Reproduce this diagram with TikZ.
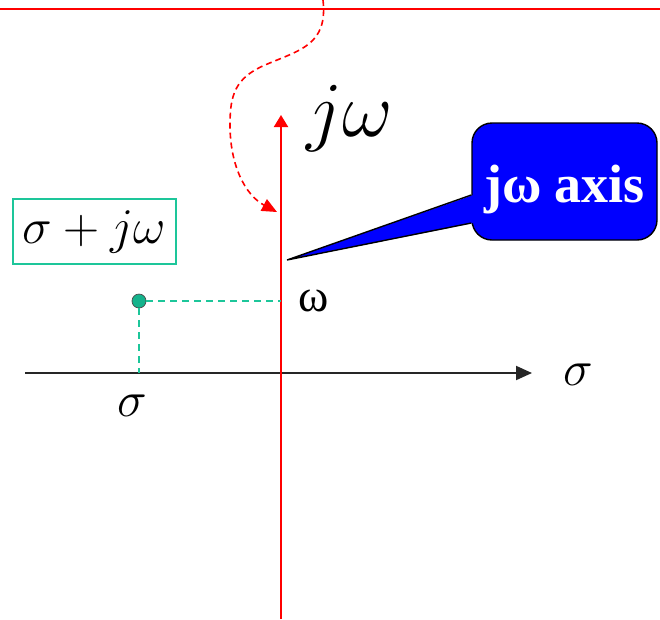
\RequirePackage{fix-cm}
\documentclass[tikz,border=0pt]{standalone}
\usepackage{fontspec}
\usepackage{tikz}
\usetikzlibrary{arrows.meta,calc}
\newfontfamily\tnr{Liberation Serif}
\definecolor{AxisRed}{HTML}{FF0000}
\definecolor{Teal}{HTML}{1DC69A}
\definecolor{DotTeal}{HTML}{14B38C}
\definecolor{CallBlue}{HTML}{0000FF}

\begin{document}
\begin{tikzpicture}[
  x=1pt,y=-1pt,
  mathlbl/.style={inner sep=0pt,font=\fontsize{50}{60}\selectfont},
  realaxis/.style={-{Triangle[length=16pt,width=14pt]},line width=2pt,black!85},
  imagaxis/.style={-{Triangle[length=12pt,width=14pt]},line width=2pt,AxisRed},
  guide/.style={Teal,line width=1.5pt,dash pattern=on 7pt off 5pt},
  curly/.style={-{Triangle[length=15pt,width=13pt]},AxisRed,line width=1.6pt,dash pattern=on 6pt off 4pt},
  callout/.style={fill=CallBlue,draw=black,line width=1.4pt,rounded corners=20pt,minimum width=185pt,minimum height=117pt,text=white,font=\tnr\bfseries\fontsize{54}{60}\selectfont,text height=53pt,text depth=12pt}
]
  \useasboundingbox (0,0) rectangle (660,619);
  \draw[AxisRed,line width=1.8pt] (0,9) -- (660,9);
  \coordinate (orig) at (281,373);
  \coordinate (xleft) at (25,373);
  \coordinate (xright) at (532,373);
  \coordinate (ybot) at (281,619);
  \coordinate (ytop) at (281,115);
  \draw[realaxis] (xleft) -- (xright);
  \draw[imagaxis] (ybot) -- (ytop);
  \node[mathlbl,font=\fontsize{78}{90}\selectfont] (jwlbl) at (350,119) {$j\omega$};
  \node[mathlbl] (sigright) at (578,375) {$\sigma$};
  \node[mathlbl] (sigbot) at (132,406) {$\sigma$};
  \node[inner sep=0pt,font=\tnr\fontsize{46}{50}\selectfont] (omlbl) at (314,301) {ω};
  \node[mathlbl,draw=Teal,line width=2pt,minimum width=163pt,minimum height=65pt] (ptlbl) at (94.5,231.5) {$\sigma+j\omega$};
  \node[circle,fill=DotTeal,draw=black!70,line width=0.7pt,minimum size=14pt,inner sep=0pt] (pt) at (139,301) {};
  \draw[guide] (pt) -- (pt |- orig);
  \draw[guide] (pt) -- (pt -| orig);
  \coordinate (cstart) at (323,0);
  \coordinate (cend) at (277,212);
  \draw[curly] (cstart) .. controls (328,45) and (300,50) .. (265,65)
    .. controls (235,78) and (230,95) .. (230,125)
    .. controls (230,165) and (245,195) .. (cend);
  \node[callout] (axislbl) at (564.5,181.5) {jω axis};
  \coordinate (ptrtop) at ($(axislbl.west)+(0,13.5)$);
  \coordinate (ptrbot) at ($(axislbl.west)+(0,41.5)$);
  \coordinate (ptrtip) at (287,260);
  \fill[CallBlue] ($(ptrtop)+(2,0)$) -- (ptrtip) -- ($(ptrbot)+(2,0)$) -- cycle;
  \draw[line width=1.4pt] (ptrtop) -- (ptrtip) -- (ptrbot);
\end{tikzpicture}
\end{document}
